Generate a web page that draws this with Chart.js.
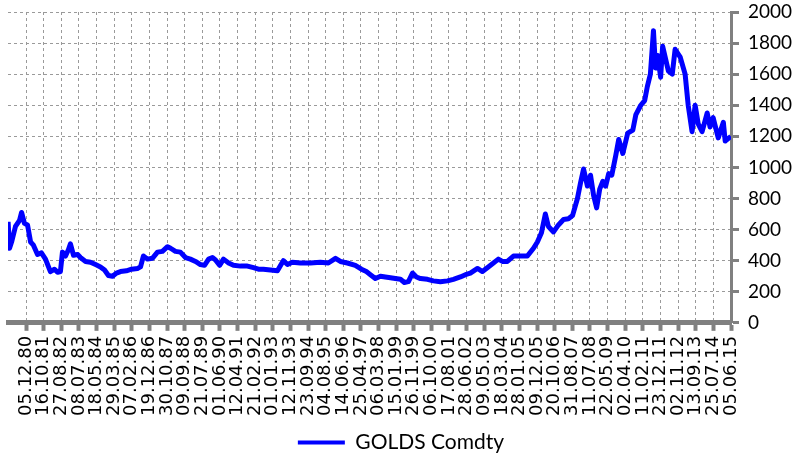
<!DOCTYPE html>
<html>
<head>
<meta charset="utf-8">
<title>GOLDS Comdty</title>
<script src="https://cdn.jsdelivr.net/npm/chart.js@4.4.1/dist/chart.umd.min.js"></script>
<style>
  html, body { margin: 0; padding: 0; background: #ffffff; }
  #wrap { width: 794px; height: 463px; position: relative; }
</style>
</head>
<body>
<div id="wrap"><canvas id="gold-chart"></canvas></div>
<script>
// ===== DATA =====
// tick labels on the time axis (dd.mm.yy)
const dateLabels = [
  "05.12.80", "16.10.81", "27.08.82", "08.07.83", "18.05.84", "29.03.85",
  "07.02.86", "19.12.86", "30.10.87", "09.09.88", "21.07.89", "01.06.90",
  "12.04.91", "21.02.92", "01.01.93", "12.11.93", "23.09.94", "04.08.95",
  "14.06.96", "25.04.97", "06.03.98", "15.01.99", "26.11.99", "06.10.00",
  "17.08.01", "28.06.02", "09.05.03", "18.03.04", "28.01.05", "09.12.05",
  "20.10.06", "31.08.07", "11.07.08", "22.05.09", "02.04.10", "11.02.11",
  "23.12.11", "02.11.12", "13.09.13", "25.07.14", "05.06.15"
];

// sample dates as decimal years
const years = [
  1980.05, 1980.12, 1980.22, 1980.41, 1980.61, 1980.71, 1980.85, 1981.0,
  1981.15, 1981.29, 1981.49, 1981.68, 1981.88, 1982.12, 1982.32, 1982.47,
  1982.61, 1982.71, 1982.86, 1983.0, 1983.1, 1983.25, 1983.45, 1983.59,
  1983.84, 1984.08, 1984.33, 1984.57, 1984.77, 1984.96, 1985.16, 1985.35,
  1985.55, 1985.84, 1986.09, 1986.38, 1986.53, 1986.67, 1986.87, 1987.11,
  1987.36, 1987.6, 1987.85, 1988.0, 1988.24, 1988.48, 1988.73, 1988.97,
  1989.22, 1989.46, 1989.66, 1989.86, 1990.05, 1990.2, 1990.4, 1990.59,
  1990.84, 1991.08, 1991.42, 1991.76, 1992.06, 1992.3, 1992.54, 1992.89,
  1993.23, 1993.43, 1993.52, 1993.72, 1993.96, 1994.35, 1994.84, 1995.33,
  1995.72, 1996.07, 1996.31, 1996.65, 1997.04, 1997.34, 1997.58, 1997.78,
  1998.02, 1998.27, 1998.51, 1998.76, 1999.0, 1999.25, 1999.44, 1999.64,
  1999.84, 2000.03, 2000.23, 2000.57, 2000.86, 2001.2, 2001.55, 2001.84,
  2002.18, 2002.43, 2002.67, 2003.02, 2003.26, 2003.5, 2003.8, 2004.04,
  2004.24, 2004.48, 2004.78, 2005.12, 2005.46, 2005.76, 2005.95, 2006.15,
  2006.34, 2006.49, 2006.74, 2006.98, 2007.23, 2007.47, 2007.67, 2007.91,
  2008.06, 2008.21, 2008.4, 2008.55, 2008.7, 2008.85, 2009.0, 2009.15,
  2009.29, 2009.44, 2009.59, 2009.79, 2009.93, 2010.13, 2010.37, 2010.62,
  2010.77, 2011.01, 2011.2, 2011.33, 2011.48, 2011.63, 2011.73, 2011.84,
  2011.98, 2012.08, 2012.22, 2012.36, 2012.55, 2012.69, 2012.94, 2013.18,
  2013.33, 2013.52, 2013.67, 2013.82, 2014.01, 2014.26, 2014.4, 2014.55,
  2014.8, 2015.05, 2015.14, 2015.42
];

// gold price, USD/oz
const gold = [
  650, 480, 520, 620, 660, 710, 640, 630,
  520, 500, 440, 450, 410, 330, 345, 325,
  330, 455, 430, 470, 508, 435, 440, 420,
  395, 390, 375, 360, 340, 305, 300, 320,
  330, 335, 345, 350, 360, 430, 410, 415,
  455, 460, 490, 480, 460, 455, 420, 410,
  395, 375, 370, 410, 420, 405, 370, 410,
  385, 370, 365, 365, 355, 345, 345, 340,
  335, 380, 400, 375, 390, 385, 385, 390,
  385, 415, 395, 385, 370, 345, 330, 310,
  285, 300, 295, 290, 285, 280, 260, 265,
  320, 295, 285, 280, 270, 265, 270, 280,
  295, 310, 320, 350, 330, 355, 385, 410,
  395, 395, 430, 430, 430, 480, 520, 580,
  700, 620, 585, 630, 665, 670, 690, 800,
  900, 990, 880, 950, 820, 740, 860, 910,
  880, 960, 950, 1080, 1180, 1090, 1220, 1240,
  1340, 1400, 1430, 1520, 1600, 1880, 1640, 1720,
  1580, 1780, 1700, 1620, 1600, 1760, 1710, 1600,
  1400, 1230, 1400, 1280, 1230, 1350, 1260, 1320,
  1190, 1290, 1170, 1200
];

// value axis ticks
const yTicks = [0, 200, 400, 600, 800, 1000, 1200, 1400, 1600, 1800, 2000];

// ===== HELPERS =====
function toDecimalYear(label) {
  const [d, m, yy] = label.split(".").map(Number);
  const y = yy < 50 ? 2000 + yy : 1900 + yy;
  const start = Date.UTC(y, 0, 1);
  const end = Date.UTC(y + 1, 0, 1);
  return y + (Date.UTC(y, m - 1, d) - start) / (end - start);
}

const tickYears = dateLabels.map(toDecimalYear);
const AXIS_GREY = "#808080";
const GRID_GREY = "#9a9a9a";

// ===== CHART =====
const ctx = document.getElementById("gold-chart").getContext("2d");
new Chart(ctx, {
  type: "line",
  data: {
    datasets: [
      {
        label: "GOLDS Comdty",
        data: years.map((yr, i) => ({ x: yr, y: gold[i] })),
        borderColor: "#0000ff",
        backgroundColor: "#0000ff",
        borderWidth: 5,
        borderJoinStyle: "round",
        pointRadius: 0,
        tension: 0,
        fill: false,
      },
    ],
  },
  options: {
    responsive: true,
    maintainAspectRatio: false,
    animation: false,
    layout: { padding: { top: 12, left: 8, right: 0, bottom: 0 } },
    plugins: {
      tooltip: { enabled: false },
      legend: {
        position: "bottom",
        labels: {
          boxWidth: 47,
          boxHeight: 4,
          padding: 11,
          color: "#000000",
          font: { family: "Lato", size: 21 },
          generateLabels: () => [
            {
              text: "GOLDS Comdty",
              fillStyle: "#0000ff",
              strokeStyle: "#0000ff",
              lineWidth: 0,
              datasetIndex: 0,
            },
          ],
        },
      },
    },
    scales: {
      x: {
        type: "linear",
        min: 1980.045,
        max: tickYears[tickYears.length - 1],
        afterBuildTicks: (scale) => {
          scale.ticks = tickYears.map((v) => ({ value: v }));
        },
        grid: {
          color: GRID_GREY,
          lineWidth: 1,
          tickColor: AXIS_GREY,
          tickWidth: 4,
          tickLength: 8,
          tickBorderDash: [],
        },
        border: { display: true, color: AXIS_GREY, width: 5, dash: [3, 3] },
        ticks: {
          autoSkip: false,
          minRotation: 90,
          maxRotation: 90,
          padding: 5,
          color: "#000000",
          font: { family: "DejaVu Sans", size: 18 },
          callback: (value, index) => dateLabels[index],
        },
      },
      y: {
        position: "right",
        min: 0,
        max: 2000,
        afterBuildTicks: (scale) => {
          scale.ticks = yTicks.map((v) => ({ value: v }));
        },
        // labels may run to the page edge, as in the original
        afterFit: (scale) => {
          scale.width = 63;
          scale.paddingTop = 0;
          scale.paddingBottom = 0;
        },
        grid: {
          color: GRID_GREY,
          lineWidth: 1,
          tickColor: AXIS_GREY,
          tickWidth: 3,
          tickLength: 8,
          tickBorderDash: [],
        },
        border: { display: true, color: AXIS_GREY, width: 3, dash: [3, 3] },
        ticks: {
          padding: 9,
          color: "#000000",
          font: { family: "Lato", size: 19 },
          callback: (value) => String(value),
        },
      },
    },
  },
});
</script>
</body>
</html>
